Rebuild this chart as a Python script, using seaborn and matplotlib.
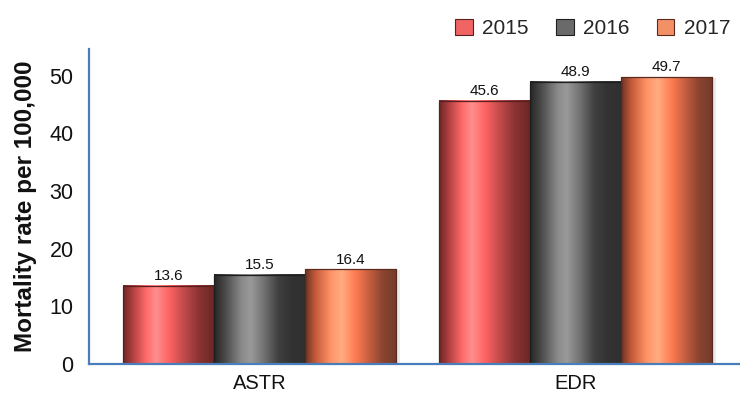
import numpy as np
import pandas as pd
import matplotlib
matplotlib.use("Agg")
import matplotlib.pyplot as plt
import matplotlib.patheffects as pe
from matplotlib.colors import LinearSegmentedColormap
from matplotlib.patches import Rectangle
import seaborn as sns

# Data
measures = ["ASTR", "EDR"]
years = ["2015", "2016", "2017"]
rates_2015 = [13.6, 45.6]
rates_2016 = [15.5, 48.9]
rates_2017 = [16.4, 49.7]

df = pd.DataFrame({
    "measure": measures * 3,
    "year": [years[0]] * 2 + [years[1]] * 2 + [years[2]] * 2,
    "rate": rates_2015 + rates_2016 + rates_2017,
})

# Horizontal shading stops for each series (cylinder look)
shading = {
    "2015": [(0.0, "#6e2626"), (0.12, "#b84444"), (0.25, "#ff6a6a"), (0.36, "#ff8e8e"),
             (0.5, "#ff6464"), (0.65, "#c64c4c"), (0.82, "#8c3434"), (1.0, "#6a2626")],
    "2016": [(0.0, "#262626"), (0.12, "#4a4a4a"), (0.3, "#8a8a8a"), (0.4, "#9a9a9a"),
             (0.55, "#707070"), (0.7, "#404040"), (0.85, "#323232"), (1.0, "#303030")],
    "2017": [(0.0, "#6e3424"), (0.12, "#c85c3c"), (0.28, "#ff9468"), (0.4, "#ffac82"),
             (0.55, "#ff7c52"), (0.7, "#c45e40"), (0.85, "#8a4430"), (1.0, "#743a2a")],
}
base_colors = {"2015": "#f06464", "2016": "#6a6a6a", "2017": "#f49066"}
edge_colors = {"2015": "#5a2020", "2016": "#1e1e1e", "2017": "#5a2a1e"}

sns.set_style("white")
plt.rcParams["font.family"] = ["Liberation Sans", "DejaVu Sans"]

fig = plt.figure(figsize=(7.4, 4.0), dpi=100)
ax = fig.add_axes([0.120, 0.09, 0.880, 0.7875])

sns.barplot(data=df, x="measure", y="rate", hue="year", hue_order=years,
            palette=base_colors, width=0.864, saturation=1, errorbar=None,
            legend=False, ax=ax)

ax.set_xlim(-0.54, 1.52)
ax.set_ylim(0, 54.6)

for container, year in zip(ax.containers, years):
    cmap = LinearSegmentedColormap.from_list(f"shade_{year}", shading[year])
    grad = np.linspace(0, 1, 256).reshape(1, -1)
    for bar in container:
        x, w, h = bar.get_x(), bar.get_width(), bar.get_height()
        bar.set_path_effects([pe.SimplePatchShadow(offset=(2.5, -0.5), shadow_rgbFace="#b0b0b0",
                                                   alpha=0.25), pe.Normal()])
        bar.set_edgecolor("none")
        ax.imshow(grad, cmap=cmap, extent=[x, x + w, 0, h], aspect="auto",
                  interpolation="bicubic", zorder=bar.get_zorder() + 0.1)
        ax.add_patch(Rectangle((x, 0), w, h, facecolor="none",
                               edgecolor=edge_colors[year], linewidth=0.9,
                               zorder=bar.get_zorder() + 0.2))
    ax.bar_label(container, fmt="%.1f", padding=2, fontsize=11, color="#111111")

ax.set_xlim(-0.54, 1.52)
ax.set_ylim(0, 54.6)
ax.set_yticks([0, 10, 20, 30, 40, 50])

# Axes styling
for side in ["top", "right"]:
    ax.spines[side].set_visible(False)
for side in ["left", "bottom"]:
    ax.spines[side].set_color("#4a7ebb")
    ax.spines[side].set_linewidth(1.6)
    ax.spines[side].set_zorder(5)

ax.tick_params(axis="y", length=0, pad=11, labelsize=15.5, labelcolor="#111111")
ax.tick_params(axis="x", length=0, pad=7, labelsize=14.5, labelcolor="#111111")
ax.set_xlabel("")
ax.set_ylabel("Mortality rate per 100,000", fontsize=17.5, fontweight="bold",
              color="#111111", labelpad=9)
ax.grid(False)

# Legend
handles = [Rectangle((0, 0), 1, 1, facecolor=base_colors[y], edgecolor=edge_colors[y],
                     linewidth=0.8) for y in years]
fig.legend(handles, years, loc="upper right", bbox_to_anchor=(1.012, 1.0), ncol=3,
           frameon=False, fontsize=15, handlelength=0.85, handleheight=0.85,
           handletextpad=0.45, columnspacing=1.3)

fig.savefig("out.png", dpi=100)
